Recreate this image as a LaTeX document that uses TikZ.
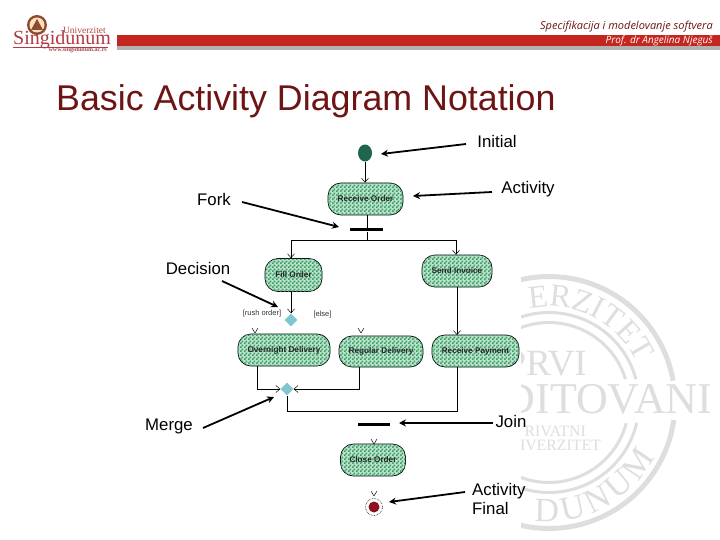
\documentclass[tikz,border=0pt]{standalone}
\usepackage{fontspec}
\setmainfont{Liberation Sans}
\newfontfamily\serifwm{Liberation Serif}
\newfontfamily\hdrfont{Open Sans}
\usetikzlibrary{arrows.meta,shapes.geometric,patterns,decorations.text}
\definecolor{barred}{HTML}{C4261F}
\definecolor{titlered}{HTML}{6E1414}
\definecolor{wmgray}{HTML}{DEDEDE}
\definecolor{chkdark}{HTML}{3F9A68}
\definecolor{chklight}{HTML}{B8E4CA}
\definecolor{logored}{HTML}{B23A44}
\definecolor{diacol}{HTML}{7FC6CE}
\definecolor{initcol}{HTML}{1E6650}
\definecolor{finalcol}{HTML}{8C1020}
\definecolor{embrown}{HTML}{8C4A2F}
\pgfdeclarepatternformonly{chk}{\pgfqpoint{0pt}{0pt}}{\pgfqpoint{4pt}{4pt}}{\pgfqpoint{4pt}{4pt}}{%
  \pgfpathrectangle{\pgfqpoint{0pt}{0pt}}{\pgfqpoint{2pt}{2pt}}%
  \pgfpathrectangle{\pgfqpoint{2pt}{2pt}}{\pgfqpoint{2pt}{2pt}}%
  \pgfusepath{fill}}
\newcommand{\wmtop}{\serifwm\fontsize{32}{36}\selectfont\color{wmgray}}
\newcommand{\wmbot}{\serifwm\fontsize{34}{38}\selectfont\color{wmgray}}
\tikzset{
  act/.style={rectangle,rounded corners=13pt,draw=black,line width=0.7pt,
    fill=chklight,postaction={pattern=chk,pattern color=chkdark},inner sep=0pt,
    font=\bfseries\fontsize{8.2}{10}\selectfont,text=black!85},
  dia/.style={diamond,aspect=1,fill=diacol,minimum size=13pt,inner sep=0pt},
  syncbar/.style={fill=black,inner sep=0pt,minimum height=3pt},
  flow/.style={line width=0.7pt,draw=black},
  flowv/.style={flow,-{Straight Barb[length=4pt,width=7pt,line width=0.5pt]}},
  stub/.style={line width=0.5pt,draw=black},
  note/.style={line width=1.8pt,-{Stealth[length=7pt,width=7pt]}},
  lab/.style={font=\fontsize{16.8}{19}\selectfont,text=black,inner sep=0pt},
  guard/.style={font=\fontsize{7.5}{9}\selectfont,text=black!80,inner sep=0pt},
  wm/.style={font=\serifwm\fontsize{37}{40}\selectfont,text=wmgray,inner sep=0pt},
  wmlarge/.style={font=\serifwm\fontsize{44}{48}\selectfont,text=wmgray,inner sep=0pt},
  wmsmall/.style={font=\serifwm\fontsize{15.8}{18}\selectfont,text=wmgray,inner sep=0pt},
  ring/.style={draw=wmgray}
}
\begin{document}
\begin{tikzpicture}[x=1pt,y=-1pt]
\useasboundingbox (0,0) rectangle (720,540);
\fill[white] (0,0) rectangle (720,540);
% watermark
\begin{scope}
\clip (521,0) rectangle (720,540);
\coordinate (wc) at (549,402.5);
\draw[ring,line width=5pt] (wc) ++(-120:126) arc[start angle=-120,end angle=-10,radius=126];
\draw[ring,line width=5pt] (wc) ++(8:126) arc[start angle=8,end angle=120,radius=126];
\draw[ring,line width=3pt] (wc) ++(-120:90) arc[start angle=-120,end angle=-15,radius=90];
\draw[ring,line width=3pt] (wc) ++(13:90) arc[start angle=13,end angle=120,radius=90];
\draw[ring,line width=3pt] (wc) ++(-120:80) arc[start angle=-120,end angle=-17,radius=80];
\draw[ring,line width=3pt] (wc) ++(15:80) arc[start angle=15,end angle=120,radius=80];
\path[decorate,decoration={text along path,text align=center,text={|\wmtop|ERZITET}}]
  (wc) ++(-104:96) arc[start angle=-104,end angle=-22,radius=96];
\path[decorate,decoration={text along path,text align={fit to path},text={|\wmbot|DUNUM}}]
  (wc) ++(97:119) arc[start angle=97,end angle=27,radius=119];
\node[wm,anchor=base east] (wmprvi) at (587,375) {PRVI};
\node[wmlarge,anchor=base east] (wmdit) at (712.5,413) {DITOVANI};
\node[wmsmall,anchor=base east] (wmriv) at (586,436) {RIVATNI};
\node[wmsmall,anchor=base east] (wmiv) at (601,450) {IVERZITET};
\end{scope}
% header bar
\fill[gray!60] (117,46) rectangle (720,50);
\fill[barred] (117,35) rectangle (720,46.5);
\node[font=\hdrfont\itshape\fontsize{11}{13}\selectfont,text=titlered,anchor=base east,inner sep=0pt] (hdr) at (713,30) {Specifikacija i modelovanje softvera};
\node[font=\hdrfont\itshape\fontsize{10}{12}\selectfont,text=white,anchor=base east,inner sep=0pt] (prof) at (713,44) {Prof. dr Angelina Njeguš};
% logo
\fill[embrown] (37,25) circle (10);
\fill[orange!25!white] (37,25) circle (7.5);
\fill[embrown] (37,19) -- (43,30) -- (31,30) -- cycle;
\node[font=\serifwm\fontsize{20}{22}\selectfont,text=logored,anchor=base west,inner sep=0pt] (sing) at (13,45) {Singidunum};
\node[font=\serifwm\fontsize{9.5}{11}\selectfont,text=logored!80!brown,anchor=base east,inner sep=0pt] (univ) at (106,34) {Univerzitet};
\node[font=\serifwm\bfseries\fontsize{6}{7}\selectfont,text=logored!80!gray,anchor=base east,inner sep=0pt] (www) at (107,52) {www.singidunum.ac.rs};
\draw[logored,line width=0.5pt] (13,46.8) -- (108,46.8);
% title
\node[font=\fontsize{35.8}{40}\selectfont,text=titlered,anchor=base west,inner sep=0pt] (title) at (56,111) {Basic Activity Diagram Notation};
% activity nodes
\node[ellipse,fill=initcol,minimum width=14pt,minimum height=17pt,inner sep=0pt] (init) at (365,153) {};
\node[act,minimum width=75pt,minimum height=32pt] (recv) at (365.5,199) {Receive Order};
\node[syncbar,minimum width=33pt] (fork) at (366.5,230) {};
\coordinate (split) at (367,240);
\node[act,minimum width=57pt,minimum height=33pt] (fill) at (293.5,275) {Fill Order};
\node[act,minimum width=70pt,minimum height=32pt] (send) at (457,271) {Send Invoice};
\node[dia] (dec) at (291,320) {};
\node[guard,anchor=center] (rush) at (262,314) {[rush order]};
\node[guard,anchor=center] (else) at (322.5,315) {[else]};
\node[act,minimum width=92pt,minimum height=32pt] (over) at (284,350) {Overnight Delivery};
\node[act,minimum width=84pt,minimum height=31pt] (reg) at (381,351.5) {Regular Delivery};
\node[act,minimum width=87pt,minimum height=32pt] (pay) at (475.5,351) {Receive Payment};
\node[dia] (merge) at (287,389) {};
\node[syncbar,minimum width=32pt] (join) at (374,424) {};
\node[act,minimum width=65pt,minimum height=32pt] (close) at (373,460) {Close Order};
\node[circle,draw=black,densely dotted,line width=0.6pt,minimum size=17pt,inner sep=0pt] (final) at (374,507) {};
\node[circle,fill=finalcol,minimum size=11pt,inner sep=0pt] (finalin) at (374,507) {};
% flows
\draw[flowv] (init) -- (init |- recv.north);
\draw[flow] (recv.south -| split) -- (fork.north -| split);
\draw[flow] (fork.south -| split) -- (split);
\coordinate (dropa) at (291,240);
\coordinate (dropb) at (456,240);
\draw[flow] (dropa) -- (dropb);
\draw[flowv] (dropa) -- (dropa |- fill.north);
\draw[flowv] (dropb) -- (dropb |- send.north);
\draw[flowv] (dropa |- fill.south) -- (dec.north);
\draw[flowv] (457,287) -- (457,335);
\coordinate (mb) at (287,411);
\coordinate (payb) at (457,367);
\coordinate (overb) at (257,366);
\coordinate (regb) at (359,367);
\draw[flowv] (overb) |- (merge.west);
\draw[flowv] (regb) |- (merge.east);
\draw[flow] (payb) |- (mb) -- (merge.south);
% loose arrow ends
\coordinate (va) at (255,333);
\coordinate (vb) at (361,333);
\coordinate (vc) at (374,444);
\coordinate (vd) at (374,496);
\foreach \v in {va,vb,vc,vd}{
  \draw[stub] (\v) ++(-3,-5) -- (\v) -- ++(3,-5);
}
% annotations
\node[lab,anchor=center] (linit) at (497,141) {Initial};
\node[lab,anchor=center] (lact) at (528,189) {Activity};
\node[lab,anchor=center] (lfork) at (214,199) {Fork};
\node[lab,anchor=center] (ldec) at (198,268) {Decision};
\node[lab,anchor=center] (lmerge) at (169,426) {Merge};
\node[lab,anchor=center] (ljoin) at (511,421) {Join};
\node[lab,anchor=west,align=left] (lfin) at (472,498.5) {Activity\\Final};
\coordinate (a1) at (466,144);
\coordinate (a2) at (381,154);
\coordinate (b1) at (492,192);
\coordinate (b2) at (413,196);
\coordinate (c1) at (242,202);
\coordinate (c2) at (339,227);
\coordinate (d1) at (222,281);
\coordinate (d2) at (278,307);
\coordinate (e1) at (203,428);
\coordinate (e2) at (274,397);
\coordinate (f1) at (493,423);
\coordinate (f2) at (399,423);
\coordinate (g1) at (465,492);
\coordinate (g2) at (389,502);
\draw[note] (a1) -- (a2);
\draw[note] (b1) -- (b2);
\draw[note] (c1) -- (c2);
\draw[note] (d1) -- (d2);
\draw[note] (e1) -- (e2);
\draw[note] (f1) -- (f2);
\draw[note] (g1) -- (g2);
\end{tikzpicture}
\end{document}
